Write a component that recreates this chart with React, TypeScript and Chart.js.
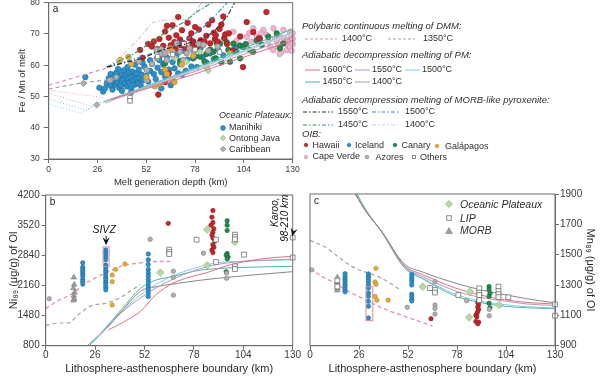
import React, { useEffect, useRef } from "react";
import { Chart, registerables } from "chart.js";

Chart.register(...registerables);

type P = [number, number];

const FONT = "'Liberation Sans', Arial, Helvetica, sans-serif";
const AXIS = "#6d6d6d";
const TICK = "#3a3a3a";
const TITLE = "#2a2a2a";

// ---------------- tick labels ----------------
const DEPTH_TICKS = [0, 26, 52, 78, 104, 130];
const FEMN_TICKS = [30, 40, 50, 60, 70, 80];
const NI_TICKS = [800, 1480, 2160, 2840, 3520, 4200];
const MN_TICKS = [900, 1100, 1300, 1500, 1700, 1900];

// ---------------- colours ----------------
const COL = {
  blue: "#2f8fc7", blueEdge: "#1d6b9c",
  red: "#c3262d", redEdge: "#8e1a1f",
  green: "#25894b", greenEdge: "#17633a",
  gold: "#e2aa3c", goldEdge: "#b6862a",
  pink: "#f0b4cf", pinkEdge: "#c68ead",
  grey: "#b1b1b1", greyEdge: "#7b7b7b",
  lgreen: "#b8d7a8", lgreenEdge: "#8db47c",
  open: "#ffffff", openEdge: "#6f6f6f",
  tri: "#9d9d9d",
  dmm1400: "#e48db5", dmm1350: "#a3a3a3",
  pm1600: "#e56f86", pm1550: "#bb97b7", pm1500: "#84c9e6", pm1450: "#4fb6a3", pm1400: "#cfcfcf", pm1400dark: "#868686",
  px1550: "#2d2d2d", px1500: "#2f8cc8", px1450: "#2b9a5c", px1400: "#cbcbcb",
  dotPink: "#eaa2c3", dotGrey: "#b3b3b3", dotTeal: "#80cbc4", dotBlue: "#92c7e8",
  sivz: "#df8aa6",
};

// ================= PANEL A : Fe/Mn of melt vs melt generation depth =================
const A_DMM1400: P[] = [[0, 53.6], [36, 60.0]];
const A_DMM1350: P[] = [[0, 52.4], [18, 54.4], [36, 55.6]];
const A_DOT_PINK: P[] = [[0, 52.0], [30, 49.6]];
const A_DOT_GREY: P[] = [[0, 51.0], [22, 47.0], [29, 48.4]];
const A_DOT_TEAL: P[] = [[0, 49.2], [20, 45.6], [28, 48.2]];
const A_DOT_BLUE: P[] = [[0, 47.6], [17, 44.6], [27, 48.0]];
const A_PM1600: P[] = [[33, 49.0], [78, 57.2], [130, 68.0]];
const A_PM1550: P[] = [[32, 48.8], [78, 58.0], [130, 69.0]];
const A_PM1500: P[] = [[30, 48.4], [78, 58.8], [130, 70.6]];
const A_PM1450: P[] = [[29, 48.2], [78, 59.2], [130, 71.6]];
const A_PM1400: P[] = [[30, 48.0], [78, 58.6], [130, 70.2]];
const A_PX1550: P[] = [[31, 59.4], [50, 62.2], [60, 64.8], [72, 66.6], [82, 68.4], [88, 70.7], [95, 75.5], [99, 80]];
const A_PX1500: P[] = [[31, 59.4], [50, 62.8], [65, 65.8], [76, 69.2], [83, 72.5], [90, 76.6], [95, 80]];
const A_PX1450: P[] = [[31, 59.4], [45, 63.5], [55, 67.5], [63, 70.8], [71, 73.4], [80, 77.5], [87, 80]];
const A_PX1400: P[] = [[31, 59.4], [40, 63.5], [48, 68.5], [55, 73.5], [60, 74.4], [74, 74.6], [78, 77], [81.5, 80]];

const A_MANIHIKI: P[] = [
  [19.5, 56.2], [27, 52.8], [29, 51.6], [30, 52.6], [31, 54.2], [32, 55.8], [33, 53.5], [34, 52.2], [34.5, 55.0], [35, 56.8],
  [35.5, 53.8], [36, 57.6], [36.5, 54.6], [37, 55.8], [37.5, 52.8], [38, 56.4], [38.5, 53.6], [39, 57.2], [39.5, 55.2], [40, 58.4],
  [40.5, 54.2], [41, 56.6], [41.5, 53.2], [42, 55.6], [42.5, 57.8], [43, 54.4], [43.5, 56.2], [44, 52.6], [44.5, 58.0], [45, 55.0],
  [45.5, 56.8], [46, 53.8], [46.5, 57.4], [47, 55.6], [47.5, 54.2], [48, 58.6], [48.5, 56.0], [49, 53.6], [49.5, 57.0], [50, 55.2],
  [51, 59.6], [52, 56.6], [53, 54.8], [54, 58.2], [55, 60.4], [56, 57.2], [57, 55.6], [58, 59.2], [59, 61.6], [60, 57.8],
  [61, 60.2], [62, 56.4], [63, 62.4], [64, 58.6], [65, 53.6], [66, 61.0], [67, 59.0], [68, 63.2], [69, 57.4], [70, 60.4],
  [72, 64.6], [73, 58.2], [74, 61.8], [76, 59.6], [78, 62.8], [79, 59.4], [81, 65.6], [82, 62.6], [84, 60.8], [86, 63.8],
  [88, 62.0], [90, 65.2], [93, 63.2], [97, 64.0], [100, 65.8], [37, 58.8], [42, 59.4], [46, 60.2], [33, 57.2], [39, 51.8],
];
const A_ICELAND: P[] = [[44, 51.4], [50, 60.8], [60, 52.6], [66, 55.2], [71, 57.0], [54, 61.6]];
const A_HAWAII: P[] = [
  [48.7, 64.9], [50, 62.4], [53, 66.8], [55, 66.0], [56, 67.6], [58, 65.2], [59, 68.4], [60, 63.4], [61, 66.2], [62, 70.8],
  [63, 72.6], [64, 68.8], [65, 66.4], [66, 72.8], [67, 67.4], [67.5, 65.2], [68, 69.6], [69, 75.4], [70, 68.2], [70.5, 66.4],
  [71, 71.2], [72, 67.0], [73, 65.6], [74, 73.6], [75, 68.6], [76, 70.2], [76.5, 66.2], [77, 67.6], [78, 72.2], [79, 65.8],
  [80, 71.4], [81, 68.0], [82, 66.6], [83, 67.6], [84, 69.4], [85, 73.0], [86, 67.0], [87, 74.4], [88, 70.4], [88.5, 68.4],
  [89, 69.6], [90, 67.6], [91, 71.6], [92, 73.0], [93, 75.6], [93.5, 68.6], [94, 69.8], [95, 66.8], [96, 70.2], [102, 69.2],
  [105.5, 73.8], [109, 70.6], [116, 77.0], [103.5, 59.4], [58.4, 50.6], [64, 57.4], [62, 54.6], [98, 64.8], [112, 68.6],
];
const A_CANARY: P[] = [
  [62, 60.6], [70, 61.4], [77, 62.2], [80.5, 62.8], [83, 61.2], [84, 63.6], [86, 65.0], [87.7, 64.3], [89, 62.2], [89.5, 67.2],
  [91.3, 66.9], [92, 61.0], [94.8, 67.4], [95.7, 64.9], [96.6, 61.1], [98.4, 66.9], [100, 64.2], [102, 66.3], [102, 62.2], [103.7, 65.9],
  [105, 66.8], [107.3, 64.8], [109, 64.3], [110.8, 67.9], [112.6, 68.5], [113.5, 66.5], [117, 69.1], [121.5, 70.2], [123.2, 65.4], [125, 67.0],
];
const A_GALAPAGOS: P[] = [
  [38, 61.7], [42.5, 62.7], [44, 60.4], [56.5, 53.3], [59, 54.0], [62, 58.6], [63, 57.2], [65, 55.6], [67, 54.6], [64.7, 65.4],
  [77, 63.0], [84.2, 59.5], [96.6, 63.8], [52, 56.2], [71, 60.2],
];
const A_CAPEVERDE: P[] = [
  [94.8, 70.2], [98.4, 70.7], [102, 69.2], [105.5, 69.1], [105.5, 65.9], [107, 70.4], [109, 71.8], [110.8, 69.1], [112, 66.8], [114.4, 71.3],
  [116.2, 69.7], [117, 67.6], [118, 65.9], [119.7, 71.8], [119.7, 64.8], [120.5, 68.6], [121.5, 68.0], [122, 66.2], [123.3, 69.1], [124, 64.2],
  [125, 71.3], [125, 67.0], [125.5, 68.4], [126.8, 68.0], [126.8, 64.8], [127.5, 66.4], [128.6, 70.7], [128.6, 67.5], [128.6, 65.9], [129.2, 69.2],
  [130, 70.2], [130, 68.4], [130, 66.8], [129.5, 64.6], [123, 63.6], [113, 70.2], [108, 67.6], [100, 67.8], [70, 65.8], [63, 64.4],
];
const A_AZORES: P[] = [
  [32.7, 55.2], [52.2, 58.5], [52.2, 55.2], [57.5, 64.9], [57.5, 62.2], [60, 63.6], [62, 63.8], [62.9, 61.7], [66, 64.4], [68.2, 67.0],
  [71.7, 61.7], [73.5, 63.8], [75, 65.4], [77.1, 64.3], [80, 66.8], [82.4, 66.5], [85, 64.6], [90, 66.0], [55, 60.4], [48, 61.2],
];
const A_CARIBBEAN: P[] = [[18.5, 54.2], [25.6, 47.3], [36, 56.2], [60, 65.2], [70, 64.2]];
const A_ONTONG: P[] = [[73.5, 61.1], [80.6, 64.3], [84, 59.2], [85, 58.2], [96.6, 63.3], [67, 62.4]];
const A_OTHERS: P[] = [[43.3, 49.6], [43.3, 48.6], [58, 62.8], [66, 63.4], [78, 65.0], [91, 64.2], [72, 66.8]];

// ================= PANEL B : Ni89 of olivine vs LAB =================
const B_DMM1400: P[] = [[0, 1636], [5.8, 1800], [14.5, 1990], [19.8, 2177], [26.8, 2343], [35.6, 2516], [40.9, 2610], [49.6, 2666], [55, 2700], [65.5, 2700]];
const B_DMM1350: P[] = [[0, 1260], [7.5, 1312], [11.9, 1312], [17.2, 1500], [23.3, 1688], [32, 1763], [39, 1876], [44.3, 2027], [49.6, 2177]];
const B_PM1600: P[] = [[33, 1160], [36, 1220], [42, 1360], [50, 1580], [58, 1950], [67, 2210], [76, 2350], [85, 2450], [95, 2600], [105, 2700], [118, 2780], [130, 2815]];
const B_PM1550: P[] = [[27, 1000], [32, 1200], [40, 1550], [50, 1880], [60, 2150], [70, 2360], [80, 2520], [90, 2630], [100, 2690], [115, 2730], [130, 2750]];
const B_PM1500: P[] = [[25, 880], [32, 1180], [40, 1560], [50, 1950], [60, 2230], [70, 2430], [80, 2570], [90, 2670], [100, 2700], [115, 2720], [130, 2740]];
const B_PM1450: P[] = [[23, 800], [30, 1130], [40, 1620], [50, 2100], [58, 2280], [67, 2360], [78, 2480], [90, 2540], [100, 2560], [115, 2580], [130, 2590]];
const B_PM1400: P[] = [[22, 800], [30, 1120], [40, 1580], [50, 2030], [58, 2130], [67, 2190], [80, 2270], [95, 2340], [110, 2400], [130, 2470]];

const B_AZORES: P[] = [[1.9, 1860], [55, 3200], [67.2, 2480], [67.2, 2340], [67.2, 1940], [83, 2885], [95.2, 2440], [95.2, 2320]];
const B_MORB: P[] = [[14.8, 2340], [15, 2180], [14.6, 2100], [15.2, 2000], [14.8, 1930], [15, 1860], [14.6, 1820]];
const B_ICELAND: P[] = [
  [19.5, 2670], [19.5, 2570], [19.5, 2520], [19.5, 2470], [19.5, 2420], [19.5, 2370], [19.5, 2300], [19.5, 2245], [19.5, 2190],
  [31.6, 2960], [31.6, 2910], [31.6, 2860], [31.6, 2800], [31.6, 2740], [31.6, 2620], [31.6, 2570], [31.6, 2510], [31.6, 2460],
  [31.6, 2400], [31.6, 2340], [31.6, 2290], [31.6, 2230], [31.6, 2180], [31.6, 2120], [31.6, 2060],
  [54, 2870], [54, 2740], [54, 2630], [54, 2520], [54, 2440], [54, 2370], [54, 2290], [54, 2220], [54, 2140], [54, 2070], [54, 1990], [54, 1910],
];
const B_GALAPAGOS: P[] = [[35, 2395], [36.8, 2523], [35, 2245], [35, 1720], [41.7, 2643]];
const B_HAWAII: P[] = [[64.5, 3560], [88, 3850], [87.5, 3700], [88, 3580], [87, 3520], [88.5, 3440], [88, 3360], [87.5, 3300], [88, 3230], [89, 3160], [88, 3080], [88.5, 3020], [87.5, 2960], [88, 2900]];
const B_CANARY: P[] = [[95.5, 3620], [95.5, 3520], [95.5, 3400], [95.5, 2880], [95, 2840], [96, 2800], [95.5, 2760], [95, 2470]];
const B_PLATEAU: P[] = [[60.3, 2450], [85, 3420], [85, 2615], [99.6, 3143]];
const B_LIP: P[] = [[65, 2967], [65, 2914], [65, 2869], [79.4, 3192], [89.6, 3192], [89.6, 2688], [99.6, 3305], [99.6, 3250], [99.6, 3200], [99.6, 2591], [99.6, 2531], [104.4, 2854], [130, 3240], [130, 2790]];
const B_SIVZ_BOX = [30.2, 33.4, 2590, 3030];
const B_KAROO_AT = [130, 3270];

// ================= PANEL C : Mn89 of olivine vs LAB =================
const C_DMM1400: P[] = [[0, 1405], [6, 1360], [12, 1320], [20, 1262], [30, 1198], [40, 1140], [50, 1095], [58, 1060], [65, 1030]];
const C_DMM1350: P[] = [[0, 1595], [8, 1550], [14, 1495], [20, 1440], [25, 1405], [32, 1375], [38, 1345], [48, 1268]];
const C_PM1400: P[] = [[24, 1900], [30, 1780], [38, 1654], [50, 1440], [60, 1385], [77, 1313], [90, 1270], [103, 1237], [115, 1210], [130, 1182]];
const C_PM1600: P[] = [[24, 1900], [30, 1780], [38, 1654], [50, 1430], [60, 1368], [77, 1281], [90, 1235], [103, 1204], [115, 1185], [130, 1175]];
const C_PM1550: P[] = [[24, 1900], [30, 1780], [38, 1654], [50, 1425], [60, 1355], [77, 1262], [90, 1220], [103, 1195], [115, 1175], [130, 1165]];
const C_PM1500: P[] = [[24.5, 1900], [30, 1785], [38, 1652], [50, 1420], [60, 1345], [77, 1240], [90, 1195], [103, 1171], [115, 1157], [130, 1149]];
const C_PM1450: P[] = [[25, 1900], [30, 1790], [38, 1650], [50, 1415], [60, 1340], [77, 1228], [90, 1185], [103, 1160], [115, 1150], [130, 1144]];

const C_AZORES: P[] = [[1, 1400], [51.6, 1153], [66.3, 1168], [66.3, 1146], [66.3, 1109], [66.3, 1322], [83.1, 1197], [95.1, 1097], [95.1, 1140]];
const C_MORB: P[] = [[14.5, 1350], [14.5, 1320], [14.5, 1300], [14.5, 1280], [14.5, 1265]];
const C_LIP: P[] = [[14.5, 1330], [14.5, 1290], [63.7, 1280], [66.3, 1267], [66.3, 1250], [78.7, 1234], [89.8, 1278], [89.8, 1250], [89.8, 1234], [89.8, 1200], [100, 1289], [100, 1260], [100, 1240], [100, 1220], [105.2, 1219], [130, 1173], [130, 1098]];
const C_ICELAND: P[] = [
  [18.6, 1375], [18.6, 1355], [18.6, 1340], [18.6, 1325], [18.6, 1305], [18.6, 1290], [18.6, 1270], [18.6, 1255],
  [31, 1373], [31, 1357], [31, 1342], [31, 1324], [31, 1302], [31, 1281], [31, 1248], [31, 1226], [31, 1193], [31, 1160], [31, 1083],
  [54, 1370], [54, 1350], [54, 1335], [54, 1320], [54, 1300], [54, 1240], [54, 1225], [54, 1205], [54, 1195],
];
const C_GALAPAGOS: P[] = [[35, 1410], [34.5, 1320], [35, 1305], [34.5, 1225], [35.5, 1200], [41.5, 1200]];
const C_HAWAII: P[] = [[64.2, 1078], [89.8, 1245], [89.5, 1200], [89, 1185], [89.5, 1170], [89, 1155], [89.5, 1140], [89, 1125], [88.5, 1110], [88, 1100], [88.5, 1090], [88, 1060], [89.5, 1055], [89, 1045]];
const C_CANARY: P[] = [[95, 1290], [95, 1270], [95.5, 1245], [95, 1225], [95, 1180], [95.5, 1150]];
const C_PLATEAU: P[] = [[59.8, 1289], [84.9, 1256], [84.4, 1087], [100.4, 1168]];
const C_SIVZ_BOX = [29.7, 33.3, 1065, 1290];

// ---------------- helpers ----------------
const pts = (a: P[]) => a.map(([x, y]) => ({ x, y }));
const DASH = [4, 3];
const DASHDOT = [5, 2, 1.5, 2];
const DOT = [1, 2];

const line = (d: P[], color: string, width = 1, dash: number[] = [], smooth = false) => ({
  data: pts(d),
  showLine: true,
  borderColor: color,
  backgroundColor: color,
  borderWidth: width,
  borderDash: dash,
  pointRadius: 0,
  pointHoverRadius: 0,
  fill: false,
  tension: 0,
  cubicInterpolationMode: smooth ? "monotone" : "default",
});

const dots = (d: P[], style: string, r: number, bg: string, edge: string, bw = 0.6) => ({
  data: pts(d),
  showLine: false,
  pointStyle: style,
  pointRadius: r,
  pointHoverRadius: r,
  backgroundColor: bg,
  borderColor: edge,
  borderWidth: bw,
  clip: 6,
});

const plain = (v: any) => String(v);

function xAxis(o: { height: number; font: number; pad: number; tickLen: number; title: string; titleFont: number; titlePad: number }) {
  return {
    type: "linear",
    min: 0,
    max: 130,
    afterBuildTicks: (s: any) => { s.ticks = DEPTH_TICKS.map((v) => ({ value: v })); },
    afterFit: (s: any) => { s.height = o.height; },
    grid: { display: true, drawOnChartArea: false, drawTicks: true, tickLength: o.tickLen, color: AXIS, lineWidth: 1 },
    border: { display: true, color: AXIS, width: 1 },
    ticks: { font: { size: o.font, family: FONT }, color: TICK, padding: o.pad, maxRotation: 0, autoSkip: false, callback: plain },
    title: { display: true, text: o.title, font: { size: o.titleFont, family: FONT }, color: TITLE, padding: { top: 0, bottom: o.titlePad } },
  };
}

function yAxis(o: { width: number; min: number; max: number; ticks: number[]; position: string; font: number; pad: number; tickLen: number; title: string; titleFont: number; titlePad: number }) {
  return {
    type: "linear",
    position: o.position,
    min: o.min,
    max: o.max,
    afterBuildTicks: (s: any) => { s.ticks = o.ticks.map((v) => ({ value: v })); },
    afterFit: (s: any) => { s.width = o.width; },
    grid: { display: true, drawOnChartArea: false, drawTicks: true, tickLength: o.tickLen, color: AXIS, lineWidth: 1 },
    border: { display: true, color: AXIS, width: 1 },
    ticks: { font: { size: o.font, family: FONT }, color: TICK, padding: o.pad, autoSkip: false, callback: plain },
    title: { display: true, text: o.title, font: { size: o.titleFont, family: FONT }, color: TITLE, padding: { top: o.titlePad, bottom: 0 } },
  };
}

function baseOptions(padding: any, x: any, y: any) {
  return {
    responsive: false,
    animation: false,
    devicePixelRatio: 1,
    events: [],
    layout: { padding },
    plugins: { legend: { display: false }, tooltip: { enabled: false } },
    scales: { x, y },
  };
}

function arrowHead(ctx: CanvasRenderingContext2D, tx: number, ty: number, angle: number, size = 8) {
  ctx.save();
  ctx.translate(tx, ty);
  ctx.rotate(angle);
  ctx.beginPath();
  ctx.moveTo(0, 0);
  ctx.lineTo(-size, -size * 0.45);
  ctx.lineTo(-size * 0.65, 0);
  ctx.lineTo(-size, size * 0.45);
  ctx.closePath();
  ctx.fillStyle = "#111";
  ctx.fill();
  ctx.restore();
}

function framePlugin(letter: string, extra?: (chart: any) => void) {
  return {
    id: "frame" + letter,
    afterDraw(chart: any) {
      const { ctx, chartArea: a } = chart;
      ctx.save();
      ctx.strokeStyle = AXIS;
      ctx.lineWidth = 1;
      ctx.strokeRect(a.left, a.top, a.right - a.left, a.bottom - a.top);
      ctx.fillStyle = "#222";
      ctx.font = `10px ${FONT}`;
      ctx.textBaseline = "middle";
      ctx.textAlign = "left";
      ctx.fillText(letter, a.left + 4, a.top + 7);
      if (extra) extra(chart);
      ctx.restore();
    },
  };
}

function sivzBox(chart: any, box: number[]) {
  const { ctx, scales } = chart;
  const l = scales.x.getPixelForValue(box[0]);
  const r = scales.x.getPixelForValue(box[1]);
  const b = scales.y.getPixelForValue(box[2]);
  const t = scales.y.getPixelForValue(box[3]);
  ctx.strokeStyle = COL.sivz;
  ctx.lineWidth = 1;
  ctx.strokeRect(l, t, r - l, b - t);
  return { l, r, t, b };
}

// ---------------- chart configs ----------------
function buildA() {
  return {
    type: "scatter",
    data: {
      datasets: [
        line(A_PX1550, COL.px1550, 1.1, DASHDOT),
        line(A_PX1500, COL.px1500, 1.1, DASHDOT),
        line(A_PX1450, COL.px1450, 1.1, DASHDOT),
        line(A_PX1400, COL.px1400, 1.1, DASHDOT),
        line(A_DMM1400, COL.dmm1400, 1.2, DASH),
        line(A_DMM1350, COL.dmm1350, 1.2, DASH),
        line(A_DOT_PINK, COL.dotPink, 1, DOT),
        line(A_DOT_GREY, COL.dotGrey, 1, DOT),
        line(A_DOT_TEAL, COL.dotTeal, 1, DOT),
        line(A_DOT_BLUE, COL.dotBlue, 1, DOT),
        line(A_PM1600, COL.pm1600, 1),
        line(A_PM1550, COL.pm1550, 1),
        line(A_PM1500, COL.pm1500, 1),
        line(A_PM1450, COL.pm1450, 1),
        line(A_PM1400, COL.pm1400, 2),
        dots(A_OTHERS, "rect", 3.2, COL.open, COL.openEdge, 0.8),
        dots(A_CARIBBEAN, "rectRot", 3.2, COL.grey, COL.greyEdge),
        dots(A_ONTONG, "rectRot", 3.2, COL.lgreen, COL.lgreenEdge),
        dots(A_GALAPAGOS, "circle", 2.8, COL.gold, COL.goldEdge),
        dots(A_AZORES, "circle", 2.8, COL.grey, COL.greyEdge),
        dots(A_HAWAII, "circle", 2.8, COL.red, COL.redEdge),
        dots(A_CANARY, "circle", 2.8, COL.green, COL.greenEdge),
        dots(A_CAPEVERDE, "circle", 2.8, COL.pink, COL.pinkEdge),
        dots(A_ICELAND, "circle", 2.8, COL.blue, COL.blueEdge),
        dots(A_MANIHIKI, "circle", 2.8, COL.blue, COL.blueEdge),
      ],
    },
    options: baseOptions(
      { left: 0, right: 17.3, top: 22.7, bottom: 0 },
      xAxis({ height: 31, font: 8.5, pad: 2, tickLen: 4, title: "Melt generation depth (km)", titleFont: 9.5, titlePad: 2.3 }),
      yAxis({ width: 48.7, min: 30, max: 80, ticks: FEMN_TICKS, position: "left", font: 8.5, pad: 4, tickLen: 5, title: "Fe / Mn of melt", titleFont: 9.5, titlePad: 16.3 })
    ),
    plugins: [framePlugin("a")],
  };
}

function buildB() {
  return {
    type: "scatter",
    data: {
      datasets: [
        dots(B_LIP, "rect", 3.4, COL.open, COL.openEdge, 0.8),
        dots(B_PLATEAU, "rectRot", 3.8, COL.lgreen, COL.lgreenEdge),
        dots(B_MORB, "triangle", 3.2, COL.tri, "#7d7d7d"),
        dots(B_AZORES, "circle", 2.2, COL.grey, COL.greyEdge),
        dots(B_GALAPAGOS, "circle", 2.2, COL.gold, COL.goldEdge),
        dots(B_HAWAII, "circle", 2.2, COL.red, COL.redEdge),
        dots(B_CANARY, "circle", 2.2, COL.green, COL.greenEdge),
        dots(B_ICELAND, "circle", 2.2, COL.blue, COL.blueEdge),
        line(B_DMM1400, COL.dmm1400, 1.3, DASH, true),
        line(B_DMM1350, COL.dmm1350, 1.2, DASH, true),
        line(B_PM1600, COL.pm1600, 1, [], true),
        line(B_PM1550, COL.pm1550, 1, [], true),
        line(B_PM1500, COL.pm1500, 1, [], true),
        line(B_PM1450, COL.pm1450, 1, [], true),
        line(B_PM1400, COL.pm1400dark, 1, [], true),
      ],
    },
    options: baseOptions(
      { left: 0, right: 12.3, top: 19, bottom: 0 },
      xAxis({ height: 30.3, font: 10, pad: 0, tickLen: 4, title: "Lithosphere-asthenosphere boundary (km)", titleFont: 11, titlePad: 0.9 }),
      yAxis({ width: 45.7, min: 800, max: 4200, ticks: NI_TICKS, position: "left", font: 10, pad: 2, tickLen: 4, title: "Ni₈₉ (μg/g) of Ol", titleFont: 11, titlePad: 7.4 })
    ),
    plugins: [
      framePlugin("b", (chart: any) => {
        const { ctx, scales } = chart;
        const r = sivzBox(chart, B_SIVZ_BOX);
        const cx = (r.l + r.r) / 2;
        ctx.fillStyle = "#111";
        ctx.font = `italic 10.5px ${FONT}`;
        ctx.textAlign = "center";
        ctx.textBaseline = "middle";
        ctx.fillText("SIVZ", cx - 2, r.t - 17);
        ctx.fillRect(cx - 0.5, r.t - 11, 1, 4);
        arrowHead(ctx, cx, r.t - 1.5, Math.PI / 2, 8);
        // Karoo annotation
        const kx = scales.x.getPixelForValue(B_KAROO_AT[0]);
        const ky = scales.y.getPixelForValue(B_KAROO_AT[1]);
        ctx.font = `italic 10px ${FONT}`;
        ctx.save();
        ctx.translate(kx - 17, ky - 24);
        ctx.rotate(-Math.PI / 2);
        ctx.textAlign = "center";
        ctx.fillText("Karoo,", 0, 0);
        ctx.restore();
        ctx.save();
        ctx.translate(kx - 7, ky - 18);
        ctx.rotate(-Math.PI / 2);
        ctx.textAlign = "center";
        ctx.fillText("98-210 km", 0, 0);
        ctx.restore();
        arrowHead(ctx, kx - 0.5, ky, Math.PI / 2 + 0.25, 8);
      }),
    ],
  };
}

function buildC() {
  return {
    type: "scatter",
    data: {
      datasets: [
        dots(C_LIP, "rect", 3.4, COL.open, COL.openEdge, 0.8),
        dots(C_PLATEAU, "rectRot", 3.8, COL.lgreen, COL.lgreenEdge),
        dots(C_MORB, "triangle", 3.2, COL.tri, "#7d7d7d"),
        dots(C_AZORES, "circle", 2.2, COL.grey, COL.greyEdge),
        dots(C_GALAPAGOS, "circle", 2.2, COL.gold, COL.goldEdge),
        dots(C_HAWAII, "circle", 2.2, COL.red, COL.redEdge),
        dots(C_CANARY, "circle", 2.2, COL.green, COL.greenEdge),
        dots(C_ICELAND, "circle", 2.2, COL.blue, COL.blueEdge),
        line(C_DMM1400, COL.dmm1400, 1.3, DASH, true),
        line(C_DMM1350, COL.dmm1350, 1.2, DASH, true),
        line(C_PM1400, COL.pm1400dark, 1, [], true),
        line(C_PM1600, COL.pm1600, 1, [], true),
        line(C_PM1550, COL.pm1550, 1, [], true),
        line(C_PM1500, COL.pm1500, 1, [], true),
        line(C_PM1450, COL.pm1450, 1, [], true),
      ],
    },
    options: baseOptions(
      { left: 10, right: 0, top: 18, bottom: 0 },
      xAxis({ height: 30.3, font: 10, pad: 0, tickLen: 4, title: "Lithosphere-asthenosphere boundary (km)", titleFont: 11, titlePad: 0.9 }),
      yAxis({ width: 45, min: 900, max: 1900, ticks: MN_TICKS, position: "right", font: 10, pad: 1, tickLen: 4, title: "Mn₈₉ (μg/g) of Ol", titleFont: 11, titlePad: 3.4 })
    ),
    plugins: [framePlugin("c", (chart: any) => { sivzBox(chart, C_SIVZ_BOX); })],
  };
}

// ---------------- React pieces ----------------
function ChartCanvas({ left, top, width, height, build }: { left: number; top: number; width: number; height: number; build: () => any }) {
  const ref = useRef<HTMLCanvasElement>(null);
  useEffect(() => {
    const chart = new Chart(ref.current as HTMLCanvasElement, build());
    return () => chart.destroy();
  }, []);
  return <canvas ref={ref} width={width} height={height} style={{ position: "absolute", left, top, width, height }} />;
}

function Txt({ x, y, text, size = 9, italic = false }: { x: number; y: number; text: string; size?: number; italic?: boolean }) {
  const lh = Math.round(size * 1.2);
  return (
    <div style={{ position: "absolute", left: x, top: y - lh / 2, fontSize: size, lineHeight: `${lh}px`, fontStyle: italic ? "italic" : "normal", whiteSpace: "nowrap", color: "#2f2f2f" }}>
      {text}
    </div>
  );
}

function Sample({ x1, x2, y, color, dash = "", width = 1 }: { x1: number; x2: number; y: number; color: string; dash?: string; width?: number }) {
  return (
    <svg width={x2 - x1} height={6} style={{ position: "absolute", left: x1, top: y - 3 }}>
      <line x1={0} y1={3} x2={x2 - x1} y2={3} stroke={color} strokeWidth={width} strokeDasharray={dash} />
    </svg>
  );
}

function Marker({ x, y, shape, fill, edge, size = 2.4 }: { x: number; y: number; shape: string; fill: string; edge: string; size?: number }) {
  const s = size;
  let el: any;
  if (shape === "circle") el = <circle cx={5} cy={5} r={s} fill={fill} stroke={edge} strokeWidth={0.6} />;
  else if (shape === "diamond") el = <polygon points={`5,${5 - s} ${5 + s},5 5,${5 + s} ${5 - s},5`} fill={fill} stroke={edge} strokeWidth={0.6} />;
  else if (shape === "square") el = <rect x={5 - s * 0.75} y={5 - s * 0.75} width={s * 1.5} height={s * 1.5} fill={fill} stroke={edge} strokeWidth={0.8} />;
  else el = <polygon points={`5,${5 - s} ${5 + s},${5 + s * 0.75} ${5 - s},${5 + s * 0.75}`} fill={fill} stroke={edge} strokeWidth={0.6} />;
  return (
    <svg width={10} height={10} style={{ position: "absolute", left: x - 5, top: y - 5 }}>
      {el}
    </svg>
  );
}

export default function App() {
  return (
    <div style={{ position: "fixed", left: 0, top: 0, width: 600, height: 376, background: "#fff", overflow: "hidden", fontFamily: FONT }}>
      <ChartCanvas left={0} top={-20} width={310} height={210} build={buildA} />
      <ChartCanvas left={0} top={176} width={305} height={200} build={buildB} />
      <ChartCanvas left={300} top={176} width={300} height={200} build={buildC} />

      {/* legend inside panel a */}
      <Txt x={219} y={115} text="Oceanic Plateaux:" size={9} italic />
      <Marker x={223} y={127.5} shape="circle" fill={COL.blue} edge={COL.blueEdge} />
      <Txt x={229} y={127.5} text="Manihiki" size={9} />
      <Marker x={223} y={138} shape="diamond" fill={COL.lgreen} edge={COL.lgreenEdge} size={2.8} />
      <Txt x={229} y={138} text="Ontong Java" size={9} />
      <Marker x={223} y={149} shape="diamond" fill={COL.grey} edge={COL.greyEdge} size={2.8} />
      <Txt x={229} y={149} text="Caribbean" size={9} />

      {/* right legend of panel a */}
      <Txt x={302} y={25} text="Polybaric continuous melting of DMM:" size={9.5} italic />
      <Sample x1={305} x2={337} y={38.5} color={COL.dmm1400} dash="3,2" />
      <Txt x={342} y={38.5} text="1400°C" />
      <Sample x1={388} x2={415} y={38.5} color={COL.dmm1350} dash="3,2" />
      <Txt x={423} y={38.5} text="1350°C" />

      <Txt x={302} y={54.5} text="Adiabatic decompression melting of PM:" size={9.5} italic />
      <Sample x1={305} x2={320} y={69.5} color={COL.pm1600} />
      <Txt x={322.5} y={69.5} text="1600°C" />
      <Sample x1={355} x2={370} y={69.5} color={COL.pm1550} />
      <Txt x={372} y={69.5} text="1550°C" />
      <Sample x1={405} x2={420} y={69.5} color={COL.pm1500} />
      <Txt x={422} y={69.5} text="1500°C" />
      <Sample x1={305} x2={320} y={81.5} color={COL.pm1450} />
      <Txt x={322.5} y={81.5} text="1450°C" />
      <Sample x1={355} x2={370} y={81.5} color={COL.pm1400} width={2} />
      <Txt x={372} y={81.5} text="1400°C" />

      <Txt x={302} y={99.5} text="Adiabatic decompression melting of MORB-like pyroxenite:" size={9.5} italic />
      <Sample x1={303} x2={333} y={111.5} color={COL.px1550} dash="4,2,1.5,2" />
      <Txt x={338} y={111.5} text="1550°C" />
      <Sample x1={372} x2={400} y={111.5} color={COL.px1500} dash="4,2,1.5,2" />
      <Txt x={405} y={111.5} text="1500°C" />
      <Sample x1={303} x2={333} y={124.5} color={COL.px1450} dash="4,2,1.5,2" />
      <Txt x={338} y={124.5} text="1450°C" />
      <Sample x1={372} x2={400} y={124.5} color={COL.px1400} dash="4,2,1.5,2" />
      <Txt x={405} y={124.5} text="1400°C" />

      <Txt x={302} y={133} text="OIB:" size={9.5} italic />
      <Marker x={306} y={145} shape="circle" fill={COL.red} edge={COL.redEdge} size={1.8} />
      <Txt x={312.5} y={145} text="Hawaii" />
      <Marker x={348.5} y={145} shape="circle" fill={COL.blue} edge={COL.blueEdge} size={1.8} />
      <Txt x={355} y={145} text="Iceland" />
      <Marker x={395} y={145} shape="circle" fill={COL.green} edge={COL.greenEdge} size={1.8} />
      <Txt x={401.5} y={145} text="Canary" />
      <Marker x={437} y={146} shape="circle" fill={COL.gold} edge={COL.goldEdge} size={1.8} />
      <Txt x={445} y={146} text="Galápagos" />
      <Marker x={306} y={156.5} shape="circle" fill={COL.pink} edge={COL.pinkEdge} size={1.8} />
      <Txt x={312.5} y={156.5} text="Cape Verde" />
      <Marker x={367} y={157} shape="circle" fill={COL.grey} edge={COL.greyEdge} size={1.8} />
      <Txt x={375.5} y={157} text="Azores" />
      <Marker x={413.5} y={157} shape="square" fill={COL.open} edge={COL.openEdge} size={2} />
      <Txt x={420} y={157} text="Others" />

      {/* legend inside panel c */}
      <Marker x={449} y={204} shape="diamond" fill={COL.lgreen} edge={COL.lgreenEdge} size={3.6} />
      <Txt x={460} y={204} text="Oceanic Plateaux" size={10.5} italic />
      <Marker x={449} y={218} shape="square" fill={COL.open} edge={COL.openEdge} size={3} />
      <Txt x={460} y={218} text="LIP" size={10.5} italic />
      <Marker x={449} y={230.5} shape="triangle" fill={COL.tri} edge="#7d7d7d" size={3.4} />
      <Txt x={460} y={230.5} text="MORB" size={10.5} italic />
    </div>
  );
}
